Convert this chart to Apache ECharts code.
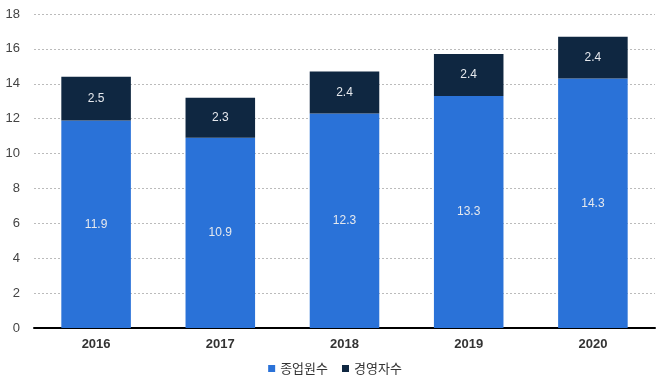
<!DOCTYPE html>
<html><head><meta charset="utf-8">
<script src="https://cdn.jsdelivr.net/npm/echarts@6/dist/echarts.min.js"></script>
<style>html,body{margin:0;padding:0;background:#fff}#c{width:670px;height:387px}</style>
</head><body><div id="c"></div>
<script>
const categories = ['2016','2017','2018','2019','2020'];
const employees = [11.9, 10.9, 12.3, 13.3, 14.3];
const managers = [2.5, 2.3, 2.4, 2.4, 2.4];
const seriesNames = ['종업원수','경영자수'];
const font = '"Noto Sans CJK KR", "Liberation Sans", sans-serif';
const chart = echarts.init(document.getElementById('c'));
const lbl = {show:true, position:'inside', color:'#e6e9ee', fontSize:12, fontFamily:'"Liberation Sans", Arial, sans-serif', formatter: p => p.value.toFixed(1)};
chart.setOption({
  animation:false,
  textStyle:{fontFamily:font},
  grid:{left:34, right:15, top:14, bottom:59},
  legend:{bottom:7, left:'center', itemWidth:7, itemHeight:7, itemGap:14, icon:'rect',
    textStyle:{color:'#333', fontSize:13, fontFamily:font}, data:seriesNames},
  xAxis:{type:'category', data:categories,
    axisLine:{lineStyle:{color:'#000', width:2}}, axisTick:{show:false},
    axisLabel:{color:'#333', fontWeight:'bold', fontSize:13, margin:10, fontFamily:'"Liberation Sans", Arial, sans-serif'}},
  yAxis:{type:'value', min:0, max:18, interval:2,
    axisLine:{show:false}, axisTick:{show:false},
    axisLabel:{color:'#444', fontSize:13, margin:14, fontFamily:'"Liberation Sans", Arial, sans-serif'},
    splitLine:{lineStyle:{color:'#bbb', type:[2,2], width:1}}},
  series:[
    {name:seriesNames[0], type:'bar', stack:'a', data:employees, barWidth:'56%',
      itemStyle:{color:'#2a72d8'}, label:lbl},
    {name:seriesNames[1], type:'bar', stack:'a', data:managers, barWidth:'56%',
      itemStyle:{color:'#0f2741'}, label:lbl}
  ]
});
</script></body></html>
